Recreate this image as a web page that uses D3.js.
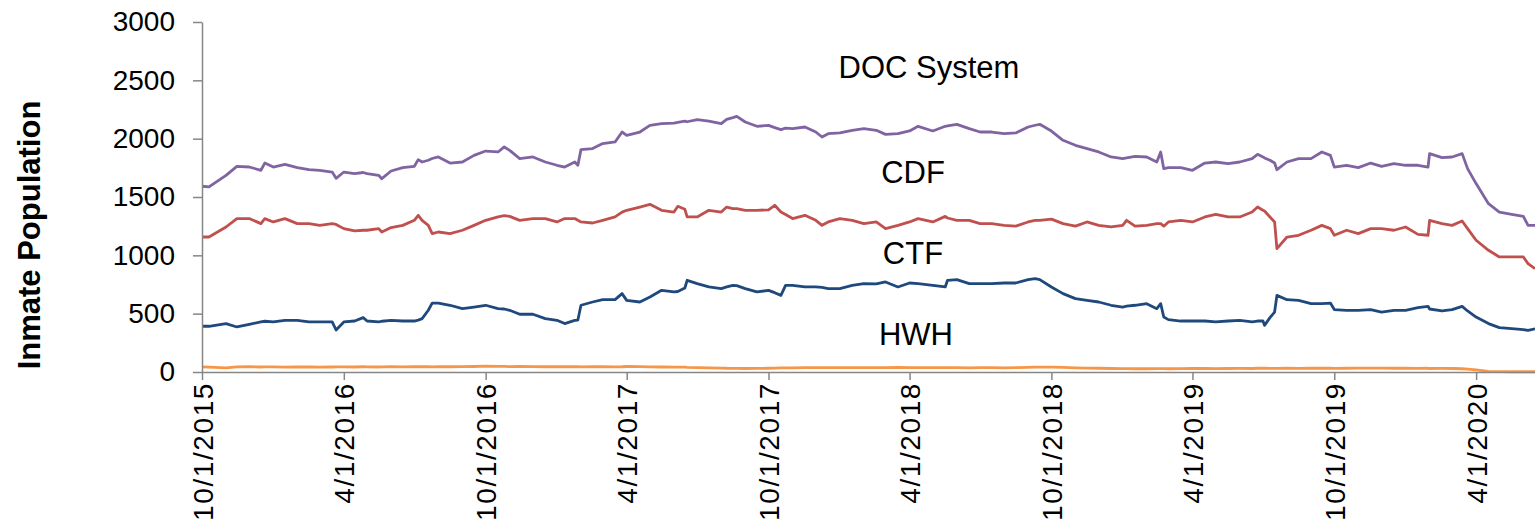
<!DOCTYPE html>
<html>
<head>
<meta charset="utf-8">
<script src="https://cdn.jsdelivr.net/npm/d3@7"></script>
<style>
  body { margin: 0; background: #fff; }
  svg { display: block; font-family: "Liberation Sans", Arial, sans-serif; }
  .axis path, .axis line { stroke: #868686; stroke-width: 1.5; }
  .axis text { fill: #000; font-size: 28px; }
  .x-axis text { letter-spacing: 1.6px; }
  .series-label { font-size: 31px; fill: #000; text-anchor: middle; }
</style>
</head>
<body>
<svg id="chart"></svg>
<script>
// Daily inmate population, DOC system and facilities

const dates = [
  "2015-10-01","2015-10-10","2015-11-01","2015-11-15","2015-12-01","2015-12-16","2015-12-21",
  "2016-01-01","2016-01-16","2016-02-01","2016-02-16","2016-03-01","2016-03-17","2016-03-22","2016-04-01","2016-04-15","2016-04-26",
  "2016-05-01","2016-05-16","2016-05-20","2016-06-01","2016-06-16","2016-07-01","2016-07-06","2016-07-11","2016-07-19","2016-07-24",
  "2016-08-01","2016-08-16","2016-09-01","2016-09-16","2016-10-01","2016-10-17","2016-10-25","2016-11-01","2016-11-14","2016-12-01","2016-12-17",
  "2017-01-01","2017-01-11","2017-01-24","2017-01-28","2017-02-01","2017-02-16","2017-03-01","2017-03-17","2017-03-26","2017-04-01","2017-04-18",
  "2017-05-01","2017-05-16","2017-06-01","2017-06-06","2017-06-15","2017-06-18","2017-07-01","2017-07-16","2017-08-01","2017-08-08","2017-08-16",
  "2017-08-21","2017-09-01","2017-09-16","2017-10-01","2017-10-09","2017-10-17","2017-10-23","2017-11-01","2017-11-17","2017-12-01","2017-12-09","2017-12-17",
  "2018-01-01","2018-01-17","2018-02-01","2018-02-17","2018-03-01","2018-03-17","2018-04-01","2018-04-12","2018-05-01","2018-05-17","2018-05-20",
  "2018-06-01","2018-06-17","2018-07-01","2018-07-16","2018-08-01","2018-08-16","2018-09-01","2018-09-10","2018-09-16","2018-10-01","2018-10-16",
  "2018-11-01","2018-11-16","2018-12-01","2018-12-17",
  "2019-01-01","2019-01-06","2019-01-17","2019-02-01","2019-02-14","2019-02-19","2019-02-23","2019-03-01","2019-03-17","2019-04-01","2019-04-17",
  "2019-05-01","2019-05-17","2019-06-01","2019-06-17","2019-06-24","2019-07-01","2019-07-03","2019-07-10","2019-07-16","2019-07-19","2019-08-01",
  "2019-08-16","2019-09-01","2019-09-15","2019-09-26","2019-10-01","2019-10-17","2019-11-01","2019-11-17","2019-12-01","2019-12-17",
  "2020-01-01","2020-01-17","2020-01-30","2020-02-01","2020-02-17","2020-03-01","2020-03-14","2020-03-21","2020-04-01","2020-04-17",
  "2020-05-01","2020-05-17","2020-06-01","2020-06-07","2020-06-16"
];

const docSystem = [
  1592,1586,1686,1763,1757,1729,1791,
  1757,1780,1752,1734,1729,1714,1660,1714,1700,1710,1700,1686,1657,1723,1752,1763,1820,1800,1815,1830,
  1843,1791,1800,1857,1894,1886,1929,1900,1829,1843,1800,
  1772,1757,1800,1772,1906,1915,1958,1972,2057,2029,2057,2114,2129,2134,2140,2151,2145,2163,2151,2129,2165,2180,
  2191,2143,2106,2114,2095,2077,2090,2086,2100,2057,2014,2043,
  2049,2072,2086,2072,2037,2043,2066,2106,2066,2106,2110,2123,2086,2057,2057,2043,2049,2100,2115,2123,2065,1986,
  1943,1915,1886,1843,
  1829,1835,1849,1843,1800,1886,1743,1752,1752,1729,1791,1800,1786,1800,1829,1866,1843,1835,1815,1791,1734,1800,
  1829,1829,1886,1857,1757,1772,1752,1791,1763,1786,
  1772,1772,1757,1872,1838,1843,1872,1743,1615,1443,1371,1352,1334,1257,1257
];

const cdf = [
  1157,1157,1243,1315,1315,1272,1315,
  1286,1315,1272,1272,1257,1272,1265,1229,1209,1215,1215,1229,1200,1238,1257,1300,1343,1300,1257,1186,
  1200,1186,1215,1257,1300,1329,1340,1334,1300,1315,1315,
  1286,1315,1315,1300,1286,1277,1300,1329,1370,1386,1414,1437,1386,1371,1420,1395,1329,1329,1386,1371,1414,1400,
  1400,1386,1386,1390,1429,1371,1350,1315,1343,1300,1257,1286,
  1315,1300,1272,1286,1229,1257,1286,1315,1286,1334,1320,1300,1300,1272,1272,1257,1250,1286,1300,1300,1310,1272,
  1250,1286,1257,1243,
  1257,1300,1250,1257,1272,1272,1250,1286,1300,1286,1329,1352,1329,1329,1371,1414,1386,1380,1329,1286,1057,1157,
  1172,1215,1257,1229,1172,1215,1186,1229,1229,1215,
  1243,1180,1172,1300,1272,1257,1294,1229,1129,1043,986,986,986,929,886
];

const ctf = [
  392,392,415,386,409,429,435,
  429,443,443,429,429,429,360,429,437,466,437,429,435,443,437,437,445,457,529,591,
  591,572,543,557,572,543,540,529,495,495,457,
  443,415,443,445,572,600,620,620,672,614,600,643,700,686,690,720,786,758,729,715,730,743,
  740,715,686,700,680,657,743,743,729,729,725,715,
  715,743,758,755,772,729,763,758,743,729,786,792,758,758,758,763,763,792,800,792,729,672,
  629,614,600,572,
  557,565,572,586,543,586,471,449,437,437,437,429,437,443,429,437,437,400,466,514,657,620,
  614,586,586,591,535,529,529,535,514,529,
  529,552,563,540,523,535,563,523,471,415,380,372,363,357,370
];

const hwh = [
  44,42,36,44,45,43,44,
  44,42,43,44,42,43,44,44,43,45,44,43,44,45,44,45,46,45,45,44,
  46,45,46,47,50,48,48,46,47,46,45,
  46,45,46,45,44,45,46,44,45,47,46,44,43,42,42,41,40,38,36,34,32,31,
  31,30,31,32,33,35,36,36,37,37,38,38,
  38,37,38,37,38,39,37,38,38,37,38,38,36,37,38,36,37,40,41,42,42,40,
  36,34,32,30,
  29,29,28,28,29,29,29,28,29,30,30,29,30,31,30,32,32,32,31,31,31,32,
  31,32,33,32,31,32,33,34,33,32,
  32,31,32,30,31,30,28,25,18,6,3,2,2,2,2
];

const tickLabels = ["10/1/2015","4/1/2016","10/1/2016","4/1/2017","10/1/2017",
                    "4/1/2018","10/1/2018","4/1/2019","10/1/2019","4/1/2020"];
const yTicks = [0, 500, 1000, 1500, 2000, 2500, 3000];

const seriesNames = ["DOC System", "CDF", "CTF", "HWH"];
const seriesColors = ["#8064A2", "#C0504D", "#1F497D", "#F79646"];

////////////////////////////////////SETUP//////////////////////
const W = 1535, H = 522;
const mLeft = 202, mRight = 1535, mTop = 22, mBottom = 372;

const parseIso = d3.timeParse("%Y-%m-%d");
const parseTick = d3.timeParse("%m/%d/%Y");
const fmtTick = d3.timeFormat("%-m/%-d/%Y");

const xDates = dates.map(parseIso);

const xScale = d3.scaleTime()
  .domain([xDates[0], xDates[xDates.length - 1]])
  .range([mLeft, mRight]);

const yScale = d3.scaleLinear()
  .domain([0, 3000])
  .range([mBottom, mTop]);

const svg = d3.select('#chart')
  .attr('width', W)
  .attr('height', H);

// lines
const allSeries = [docSystem, cdf, ctf, hwh];
const line = d3.line()
  .x((d, i) => xScale(xDates[i]))
  .y((d) => yScale(d));

svg.selectAll('path.series')
  .data(allSeries)
  .enter()
  .append('path')
  .attr('class', 'series')
  .attr('d', (d) => line(d))
  .attr('fill', 'none')
  .attr('stroke', (d, i) => seriesColors[i])
  .attr('stroke-width', 2.8)
  .attr('stroke-linejoin', 'round');

//AXES
const yAxis = d3.axisLeft(yScale)
  .tickValues(yTicks)
  .tickSize(9)
  .tickSizeOuter(0)
  .tickPadding(18)
  .tickFormat(d3.format("d"));
svg.append('g')
  .attr('class', 'axis')
  .attr('transform', `translate(${mLeft}, 0)`)
  .call(yAxis);

const xAxis = d3.axisBottom(xScale)
  .tickValues(tickLabels.map(parseTick))
  .tickSize(8)
  .tickSizeOuter(0)
  .tickFormat(fmtTick);
const xg = svg.append('g')
  .attr('class', 'axis x-axis')
  .attr('transform', `translate(0, ${mBottom})`)
  .call(xAxis);
xg.selectAll('text')
  .attr('transform', 'rotate(-90)')
  .attr('x', -10)
  .attr('y', 0)
  .attr('dy', '0.36em')
  .style('text-anchor', 'end');

// y axis title
svg.append('text')
  .attr('transform', 'translate(40, 235) rotate(-90)')
  .style('text-anchor', 'middle')
  .style('font-weight', 'bold')
  .style('font-size', '31px')
  .text('Inmate Population');

// series labels
const labelPos = [[929, 78], [913, 183], [913, 264], [916, 345]];
svg.selectAll('text.series-label')
  .data(seriesNames)
  .enter()
  .append('text')
  .attr('class', 'series-label')
  .attr('x', (d, i) => labelPos[i][0])
  .attr('y', (d, i) => labelPos[i][1])
  .text((d) => d);
</script>
</body>
</html>
